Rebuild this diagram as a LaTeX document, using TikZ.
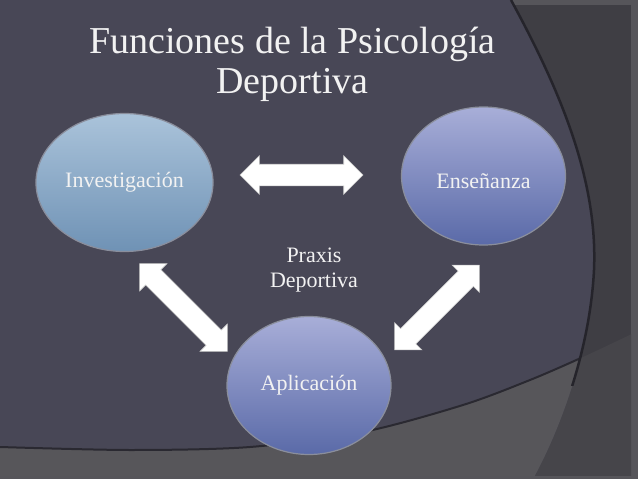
\documentclass[tikz,border=0pt]{standalone}
\usepackage{fontspec}
\setmainfont{Liberation Serif}
\usetikzlibrary{shapes.geometric,shapes.arrows}

\definecolor{slatebg}{HTML}{484756}
\definecolor{panelbg}{HTML}{3F3E44}
\definecolor{framebg}{HTML}{56555A}
\definecolor{bandbg}{HTML}{57565A}
\definecolor{bandpanel}{HTML}{46454A}
\definecolor{arcline}{HTML}{25242B}
\definecolor{ringgray}{HTML}{8A8E9C}
\definecolor{invtop}{HTML}{AAC3DA}
\definecolor{invbot}{HTML}{6F92B5}
\definecolor{enstop}{HTML}{A8AED8}
\definecolor{ensbot}{HTML}{5A6AA8}
\definecolor{lighttext}{HTML}{F2F2F2}

\tikzset{
  bubble/.style={ellipse, draw=ringgray, line width=1.2pt, minimum width=164pt,
    minimum height=138pt, text=lighttext, font=\fontsize{22}{25}\selectfont},
  lbl/.style={text=lighttext, font=\fontsize{22}{25}\selectfont},
  titletext/.style={text=lighttext, font=\fontsize{38}{42}\selectfont},
  blockarrow/.style={double arrow, fill=white, draw=gray!45, line width=0.6pt,
    inner sep=0pt, inner ysep=10.5pt, double arrow head extend=8.5pt, minimum width=38pt}
}

\begin{document}
\begin{tikzpicture}[x=1pt, y=-1pt]
 \useasboundingbox (0,0) rectangle (638,479);

 % Background
 \fill[framebg] (0,0) rectangle (638,479);
 \fill[panelbg] (480,5) rectangle (631,476);
 \begin{scope}
  \clip (480,5) rectangle (631,476);
  \fill[bandpanel] plot[smooth] coordinates {(0,447) (130,450) (250,447) (363,432) (463,405) (530,380) (583,357) (638,331)} -- (638,479) -- (0,479) -- cycle;
 \end{scope}
 \fill[slatebg] (0,0) -- (511,0) .. controls (560,90) and (598,180) .. (594,270) .. controls (590,350) and (560,430) .. (533,479) -- (0,479) -- cycle;
 \begin{scope}
  \clip (0,0) -- (511,0) .. controls (560,90) and (598,180) .. (594,270) .. controls (590,350) and (560,430) .. (533,479) -- (0,479) -- cycle;
  \fill[bandbg] plot[smooth] coordinates {(0,447) (130,450) (250,447) (363,432) (463,405) (530,380) (583,357) (638,331)} -- (638,479) -- (0,479) -- cycle;
  \draw[arcline!85!slatebg, line width=2pt] plot[smooth] coordinates {(0,447) (130,450) (250,447) (363,432) (463,405) (530,380) (583,357) (638,331)};
 \end{scope}
 \begin{scope}
  \clip (0,0) rectangle (638,385);
  \draw[arcline, line width=2.5pt] (511,0) .. controls (560,90) and (598,180) .. (594,270) .. controls (590,350) and (560,430) .. (533,479);
 \end{scope}
 \fill[framebg] (0,476) rectangle (638,479);

 % Title
 \node[titletext, anchor=base] (title) at (292.5,53) {Funciones de la Psicología};
 \node[titletext, anchor=base] (title2) at (292.5,93) {Deportiva};

 % Circles
 \node[bubble, top color=invtop, bottom color=invbot] (inv) at (124.5,182.5) {Investigación};
 \node[bubble, top color=enstop, bottom color=ensbot, text height=26pt] (ens) at (483.5,176) {Enseñanza};
 \node[bubble, top color=enstop, bottom color=ensbot] (apl) at (309,385.5) {Aplicación};
 \node[lbl, align=center] (praxis) at (314,270) {Praxis\\Deportiva};

 % Arrows
 \node[blockarrow, minimum height=123pt] (arrtop) at (301.5,175) {};
 \node[blockarrow, minimum height=124pt, rotate=-45] (arrleft) at (183.5,307.5) {};
 \node[blockarrow, minimum height=120pt, rotate=45] (arrright) at (437,307.5) {};
\end{tikzpicture}
\end{document}
